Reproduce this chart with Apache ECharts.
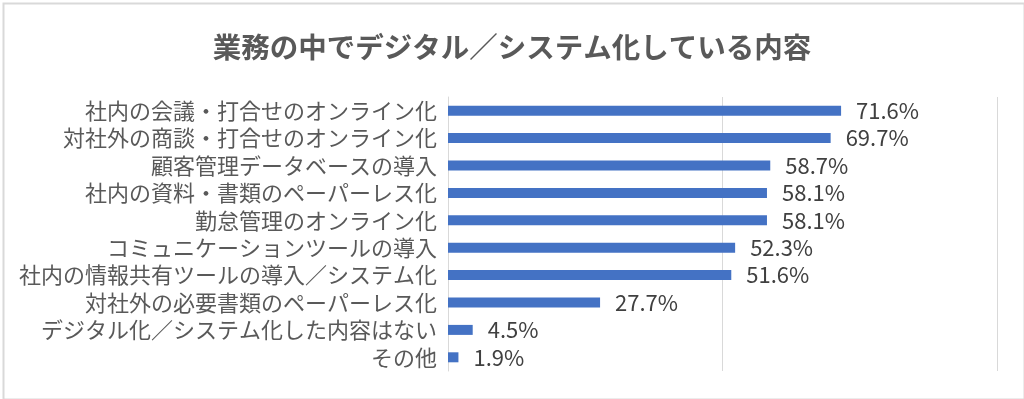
<!DOCTYPE html>
<html><head><meta charset="utf-8">
<script src="https://cdn.jsdelivr.net/npm/echarts@6/dist/echarts.min.js"></script>
<style>html,body{margin:0;padding:0;background:#fff}#c{width:1024px;height:399px}</style>
</head><body><div id="c"></div>
<script>
const titleText = '業務の中でデジタル／システム化している内容';
const categories = [
  '社内の会議・打合せのオンライン化',
  '対社外の商談・打合せのオンライン化',
  '顧客管理データベースの導入',
  '社内の資料・書類のペーパーレス化',
  '勤怠管理のオンライン化',
  'コミュニケーションツールの導入',
  '社内の情報共有ツールの導入／システム化',
  '対社外の必要書類のペーパーレス化',
  'デジタル化／システム化した内容はない',
  'その他'
];
const values = [71.6, 69.7, 58.7, 58.1, 58.1, 52.3, 51.6, 27.7, 4.5, 1.9];

const font = '"Noto Sans CJK JP", "Noto Sans", sans-serif';
const chart = echarts.init(document.getElementById('c'), null, {renderer: 'canvas'});
chart.setOption({
  backgroundColor: '#fff',
  animation: false,
  textStyle: {fontFamily: font},
  title: {
    text: titleText, left: 'center', top: 28,
    textStyle: {fontFamily: font, fontSize: 28.5, fontWeight: 'bold', color: '#595959'}
  },
  graphic: [{
    type: 'rect', left: 1, top: 1,
    shape: {width: 1021, height: 396},
    style: {fill: 'none', stroke: '#d9d9d9', lineWidth: 2}
  }],
  grid: {left: 448, right: 27, top: 97, bottom: 28, containLabel: false},
  xAxis: {
    type: 'value', min: 0, max: 100, interval: 50,
    axisLabel: {show: false}, axisTick: {show: false}, axisLine: {show: false},
    splitLine: {lineStyle: {color: '#d9d9d9', width: 1}}
  },
  yAxis: {
    type: 'category', data: categories, inverse: true,
    axisTick: {show: false},
    axisLine: {lineStyle: {color: '#d9d9d9', width: 1}},
    axisLabel: {interval: 0, hideOverlap: false, fontFamily: font, fontSize: 22, lineHeight: 24, color: '#595959', margin: 11}
  },
  series: [{
    type: 'bar', data: values, barWidth: 10,
    itemStyle: {color: '#4472C4'},
    label: {show: true, position: 'right', distance: 15, formatter: '{c}%',
      fontFamily: font, fontSize: 22, color: '#404040'}
  }]
});
</script></body></html>
